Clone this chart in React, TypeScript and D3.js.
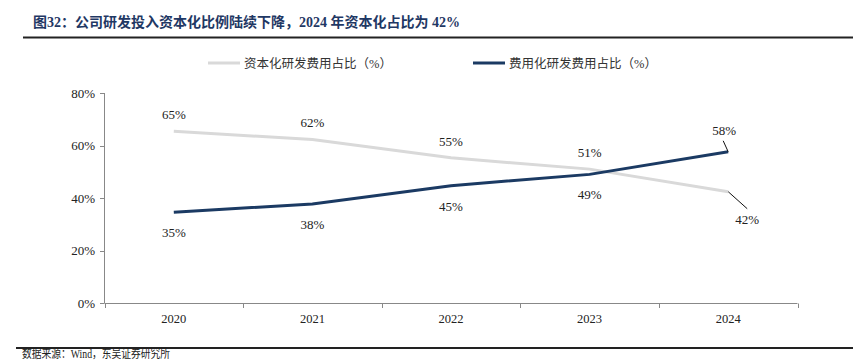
import React, { useRef, useEffect } from 'react';
import * as d3 from 'd3';

const years = ['2020', '2021', '2022', '2023', '2024'];
const capitalised = [65.4, 62.3, 55.3, 51.0, 42.4];
const expensed = [34.6, 37.7, 44.7, 49.0, 57.6];
const capLabels = ['65%', '62%', '55%', '51%', '42%'];
const expLabels = ['35%', '38%', '45%', '49%', '58%'];
const yTicks = [0, 20, 40, 60, 80];

const FONT = '"Liberation Serif", "Noto Sans CJK SC", serif';
const GREY = '#d9d9d9';
const NAVY = '#1b3a63';

const App = () => {
  const ref = useRef(null);

  useEffect(() => {
    const width = 853;
    const height = 362;
    const svg = d3.select(ref.current);
    svg.selectAll('*').remove();
    svg.attr('width', width).attr('height', height).style('font-family', FONT);

    // title
    svg.append('text')
      .attr('x', 33).attr('y', 27)
      .attr('fill', '#1f3864')
      .style('font-size', '14px').style('font-weight', 'bold')
      .attr('textLength', 427).attr('lengthAdjust', 'spacingAndGlyphs')
      .text('图32：公司研发投入资本化比例陆续下降，2024 年资本化占比为 42%');
    svg.append('line')
      .attr('x1', 23).attr('x2', 853).attr('y1', 37.5).attr('y2', 37.5)
      .attr('stroke', '#222').attr('stroke-width', 2);

    // legend
    const legend = [
      { label: '资本化研发费用占比（%）', color: GREY, x: 208 },
      { label: '费用化研发费用占比（%）', color: NAVY, x: 473 },
    ];
    legend.forEach(l => {
      svg.append('line')
        .attr('x1', l.x).attr('x2', l.x + 32).attr('y1', 63).attr('y2', 63)
        .attr('stroke', l.color).attr('stroke-width', 3);
      svg.append('text')
        .attr('x', l.x + 36).attr('y', 67.5)
        .attr('fill', '#333').style('font-size', '12.5px')
        .attr('textLength', 148).attr('lengthAdjust', 'spacingAndGlyphs')
        .text(l.label);
    });

    const x = d3.scaleBand().domain(years).range([104.5, 797.5]);
    const y = d3.scaleLinear().domain([0, 80]).range([303, 93]);
    const cx = (d: string) => (x(d) as number) + x.bandwidth() / 2;

    // axes
    const g = svg.append('g');
    g.append('line')
      .attr('x1', 104.5).attr('x2', 104.5).attr('y1', 93).attr('y2', 303)
      .attr('stroke', '#888');
    g.selectAll('.yt').data(yTicks).enter().append('line')
      .attr('x1', 100).attr('x2', 104.5)
      .attr('y1', d => Math.round(y(d)) + 0.5).attr('y2', d => Math.round(y(d)) + 0.5)
      .attr('stroke', '#888');
    g.selectAll('.yl').data(yTicks).enter().append('text')
      .attr('x', 95).attr('y', d => y(d) + 4.5)
      .attr('text-anchor', 'end').attr('fill', '#222')
      .style('font-size', '13px')
      .text(d => `${d}%`);
    g.append('line')
      .attr('x1', 104.5).attr('x2', 797.5).attr('y1', 303.5).attr('y2', 303.5)
      .attr('stroke', '#888');
    const bounds = years.map(d => x(d) as number).concat([797.5]);
    g.selectAll('.xt').data(bounds).enter().append('line')
      .attr('x1', d => Math.round(d) + 0.5).attr('x2', d => Math.round(d) + 0.5)
      .attr('y1', 303.5).attr('y2', 308)
      .attr('stroke', '#888');
    g.selectAll('.xl').data(years).enter().append('text')
      .attr('x', d => cx(d)).attr('y', 323)
      .attr('text-anchor', 'middle').attr('fill', '#222')
      .style('font-size', '12.5px')
      .text(d => d);

    const line = d3.line<number>()
      .x((_, i) => cx(years[i]))
      .y(d => y(d));

    svg.append('path').datum(capitalised)
      .attr('d', line).attr('fill', 'none')
      .attr('stroke', GREY).attr('stroke-width', 3);
    svg.append('path').datum(expensed)
      .attr('d', line).attr('fill', 'none')
      .attr('stroke', NAVY).attr('stroke-width', 3);

    // data labels
    const labelStyle = (s: any) => s.attr('text-anchor', 'middle').attr('fill', '#222').style('font-size', '13px');
    capitalised.forEach((v, i) => {
      if (i === years.length - 1) return;
      svg.append('text').attr('x', cx(years[i])).attr('y', y(v) - 12)
        .call(labelStyle).text(capLabels[i]);
    });
    expensed.forEach((v, i) => {
      if (i === years.length - 1) return;
      svg.append('text').attr('x', cx(years[i])).attr('y', y(v) + 25)
        .call(labelStyle).text(expLabels[i]);
    });

    // 2024 labels with leader lines
    const last = years.length - 1;
    const lx = cx(years[last]);
    svg.append('line')
      .attr('x1', lx).attr('y1', y(expensed[last]))
      .attr('x2', lx - 5).attr('y2', y(expensed[last]) - 11)
      .attr('stroke', '#111').attr('stroke-width', 1);
    svg.append('text').attr('x', lx - 4).attr('y', y(expensed[last]) - 17)
      .call(labelStyle).text(expLabels[last]);
    svg.append('line')
      .attr('x1', lx).attr('y1', y(capitalised[last]))
      .attr('x2', lx + 19).attr('y2', y(capitalised[last]) + 17)
      .attr('stroke', '#111').attr('stroke-width', 1);
    svg.append('text').attr('x', lx + 19).attr('y', y(capitalised[last]) + 32)
      .call(labelStyle).text(capLabels[last]);

    // source
    svg.append('line')
      .attr('x1', 16).attr('x2', 853).attr('y1', 348).attr('y2', 348)
      .attr('stroke', '#222').attr('stroke-width', 2);
    svg.append('text')
      .attr('x', 22).attr('y', 358)
      .attr('fill', '#222').style('font-size', '12px')
      .attr('textLength', 148).attr('lengthAdjust', 'spacingAndGlyphs')
      .text('数据来源：Wind，东吴证券研究所');
  }, []);

  return <svg ref={ref} style={{ position: 'absolute', left: 0, top: 0 }} />;
};

export default App;
